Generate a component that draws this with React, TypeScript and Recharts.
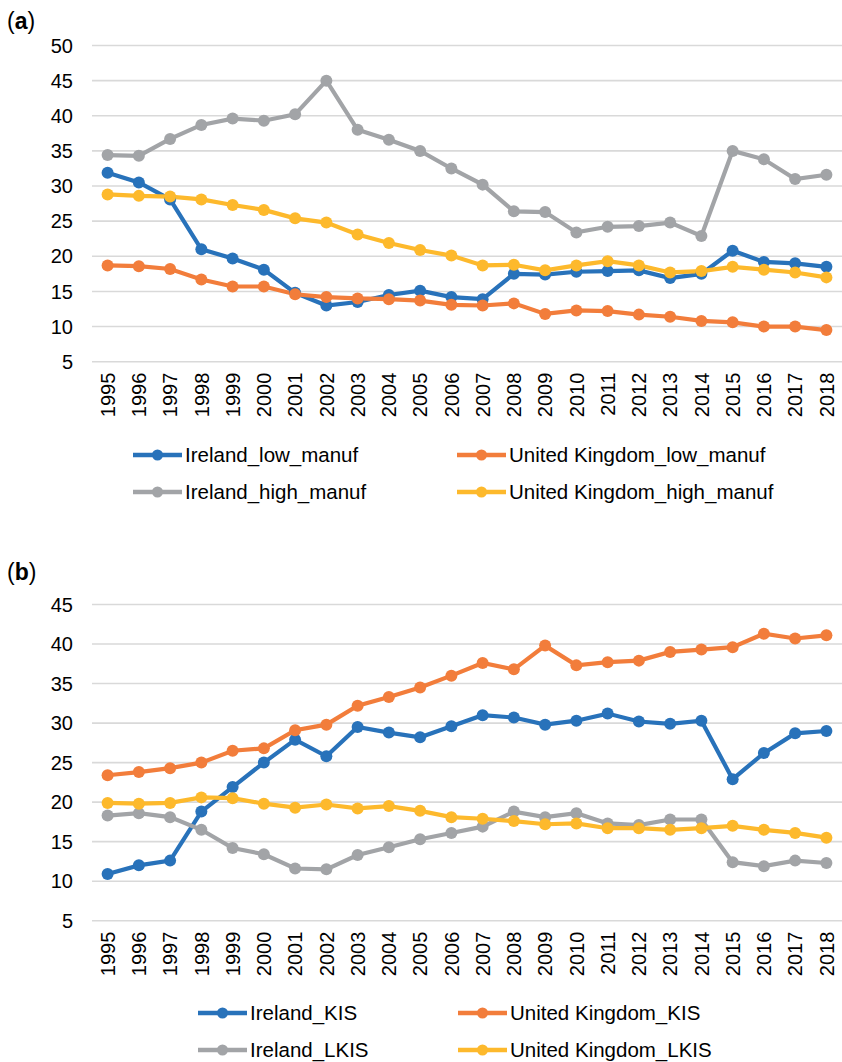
import { CartesianGrid, Line, LineChart, XAxis, YAxis } from "recharts";

// x categories shared by both panels
const YEARS = [
    "1995", "1996", "1997", "1998", "1999", "2000", "2001", "2002", "2003", "2004", "2005", "2006",
    "2007", "2008", "2009", "2010", "2011", "2012", "2013", "2014", "2015", "2016", "2017", "2018",
];

// panel (a): manufacturing
const IRL_LOW_MANUF = [31.9, 30.5, 28.1, 21.0, 19.7, 18.1, 14.8, 13.0, 13.5, 14.5, 15.1, 14.2, 13.9, 17.5, 17.4, 17.8, 17.9, 18.0, 16.9, 17.5, 20.8, 19.2, 19.0, 18.5];
const UK_LOW_MANUF = [18.7, 18.6, 18.2, 16.7, 15.7, 15.7, 14.6, 14.2, 14.0, 13.9, 13.7, 13.1, 13.0, 13.3, 11.8, 12.3, 12.2, 11.7, 11.4, 10.8, 10.6, 10.0, 10.0, 9.5];
const IRL_HIGH_MANUF = [34.4, 34.3, 36.7, 38.7, 39.6, 39.3, 40.2, 45.0, 38.0, 36.6, 35.0, 32.5, 30.2, 26.4, 26.3, 23.4, 24.2, 24.3, 24.8, 22.9, 35.0, 33.8, 31.0, 31.6];
const UK_HIGH_MANUF = [28.8, 28.6, 28.5, 28.1, 27.3, 26.6, 25.4, 24.8, 23.1, 21.9, 20.9, 20.1, 18.7, 18.8, 18.0, 18.7, 19.3, 18.7, 17.7, 17.9, 18.5, 18.1, 17.7, 17.0];

// panel (b): services
const IRL_KIS = [10.9, 12.0, 12.6, 18.8, 21.9, 25.0, 27.9, 25.8, 29.5, 28.8, 28.2, 29.6, 31.0, 30.7, 29.8, 30.3, 31.2, 30.2, 29.9, 30.3, 22.9, 26.2, 28.7, 29.0];
const UK_KIS = [23.4, 23.8, 24.3, 25.0, 26.5, 26.8, 29.1, 29.8, 32.2, 33.3, 34.5, 36.0, 37.6, 36.8, 39.8, 37.3, 37.7, 37.9, 39.0, 39.3, 39.6, 41.3, 40.7, 41.1];
const IRL_LKIS = [18.3, 18.6, 18.1, 16.5, 14.2, 13.4, 11.6, 11.5, 13.3, 14.3, 15.3, 16.1, 16.9, 18.8, 18.1, 18.6, 17.3, 17.1, 17.8, 17.8, 12.4, 11.9, 12.6, 12.3];
const UK_LKIS = [19.9, 19.8, 19.9, 20.6, 20.5, 19.8, 19.3, 19.7, 19.2, 19.5, 18.9, 18.1, 17.9, 17.6, 17.2, 17.3, 16.7, 16.7, 16.5, 16.7, 17.0, 16.5, 16.1, 15.5];

// y axis ticks
const TICKS_A = [5, 10, 15, 20, 25, 30, 35, 40, 45, 50];
const TICKS_B = [5, 10, 15, 20, 25, 30, 35, 40, 45];

const BLUE = "#2872BA";
const ORANGE = "#F27D3B";
const GRAY = "#A2A4A7";
const YELLOW = "#FDB92C";

const FONT = '"Liberation Sans", Arial, sans-serif';

type Series = { key: string; name: string; color: string; values: number[] };

const SERIES_A: Series[] = [
    { key: "irlLow", name: "Ireland_low_manuf", color: BLUE, values: IRL_LOW_MANUF },
    { key: "ukLow", name: "United Kingdom_low_manuf", color: ORANGE, values: UK_LOW_MANUF },
    { key: "irlHigh", name: "Ireland_high_manuf", color: GRAY, values: IRL_HIGH_MANUF },
    { key: "ukHigh", name: "United Kingdom_high_manuf", color: YELLOW, values: UK_HIGH_MANUF },
];

const SERIES_B: Series[] = [
    { key: "irlKis", name: "Ireland_KIS", color: BLUE, values: IRL_KIS },
    { key: "ukKis", name: "United Kingdom_KIS", color: ORANGE, values: UK_KIS },
    { key: "irlLkis", name: "Ireland_LKIS", color: GRAY, values: IRL_LKIS },
    { key: "ukLkis", name: "United Kingdom_LKIS", color: YELLOW, values: UK_LKIS },
];

function buildRows(series: Series[]) {
    return YEARS.map((year, i) => {
        const row: Record<string, string | number> = { year };
        series.forEach((s) => {
            row[s.key] = s.values[i];
        });
        return row;
    });
}

// rotated year labels
function YearTick({ x, y, payload }: any) {
    return (
        <text
            x={x}
            y={y}
            transform={`rotate(-90, ${x}, ${y})`}
            textAnchor="end"
            dy="0.36em"
            fontSize={20}
            fontFamily={FONT}
            fill="#000"
        >
            {payload.value}
        </text>
    );
}

function LegendMarker({ color }: { color: string }) {
    return (
        <svg width={49} height={14} style={{ display: "block" }}>
            <line x1={0} y1={7} x2={49} y2={7} stroke={color} strokeWidth={4.5} strokeLinecap="round" />
            <circle cx={24.5} cy={7} r={5.5} fill={color} />
        </svg>
    );
}

type PanelProps = {
    top: number;
    label: string;
    labelTop: number;
    series: Series[];
    ticks: number[];
    legendCols: number[];
    legendRows: number[];
};

function Panel({ top, label, labelTop, series, ticks, legendCols, legendRows }: PanelProps) {
    const rows = buildRows(series);
    return (
        <div style={{ position: "absolute", left: 0, top, width: 842, height: 560 }}>
            <div
                style={{
                    position: "absolute",
                    left: 7,
                    top: labelTop,
                    fontFamily: FONT,
                    fontSize: 23,
                    lineHeight: "23px",
                    color: "#000",
                }}
            >
                (<b>{label}</b>)
            </div>
            <LineChart
                width={842}
                height={430}
                data={rows}
                margin={{ top: 45.5, right: 0, bottom: 8.3, left: 0 }}
                style={{ position: "absolute", left: 0, top: 0 }}
            >
                <CartesianGrid vertical={false} stroke="#D9D9D9" strokeWidth={1.6} />
                <XAxis
                    dataKey="year"
                    interval={0}
                    height={60}
                    axisLine={false}
                    tickLine={false}
                    tickSize={6}
                    tickMargin={5}
                    padding={{ left: 15.6, right: 15.6 }}
                    tick={<YearTick />}
                />
                <YAxis
                    width={92}
                    domain={[ticks[0], ticks[ticks.length - 1]]}
                    ticks={ticks}
                    interval={0}
                    axisLine={false}
                    tickLine={false}
                    tickSize={6}
                    tickMargin={13}
                    tick={{ fontSize: 20, fontFamily: FONT, fill: "#000" }}
                />
                {series.map((s) => (
                    <Line
                        key={s.key}
                        type="linear"
                        dataKey={s.key}
                        name={s.name}
                        stroke={s.color}
                        strokeWidth={4.2}
                        dot={{ r: 6, fill: s.color, stroke: s.color, strokeWidth: 0 }}
                        activeDot={false}
                        isAnimationActive={false}
                    />
                ))}
            </LineChart>
            {series.map((s, i) => {
                const col = i % 2;
                const row = Math.floor(i / 2);
                return (
                    <div
                        key={s.key}
                        style={{
                            position: "absolute",
                            left: legendCols[col],
                            top: legendRows[row] - 12,
                            height: 24,
                            display: "flex",
                            alignItems: "center",
                            fontFamily: FONT,
                            fontSize: 20.5,
                            color: "#000",
                            whiteSpace: "nowrap",
                        }}
                    >
                        <LegendMarker color={s.color} />
                        <span style={{ marginLeft: 3 }}>{s.name}</span>
                    </div>
                );
            })}
        </div>
    );
}

export default function App() {
    return (
        <div style={{ position: "absolute", left: 0, top: 0, width: 842, height: 1062, background: "#fff" }}>
            <Panel
                top={0}
                label="a"
                labelTop={10}
                series={SERIES_A}
                ticks={TICKS_A}
                legendCols={[133, 457]}
                legendRows={[455, 492]}
            />
            <Panel
                top={559.2}
                label="b"
                labelTop={2}
                series={SERIES_B}
                ticks={TICKS_B}
                legendCols={[198, 458]}
                legendRows={[454, 491]}
            />
        </div>
    );
}
